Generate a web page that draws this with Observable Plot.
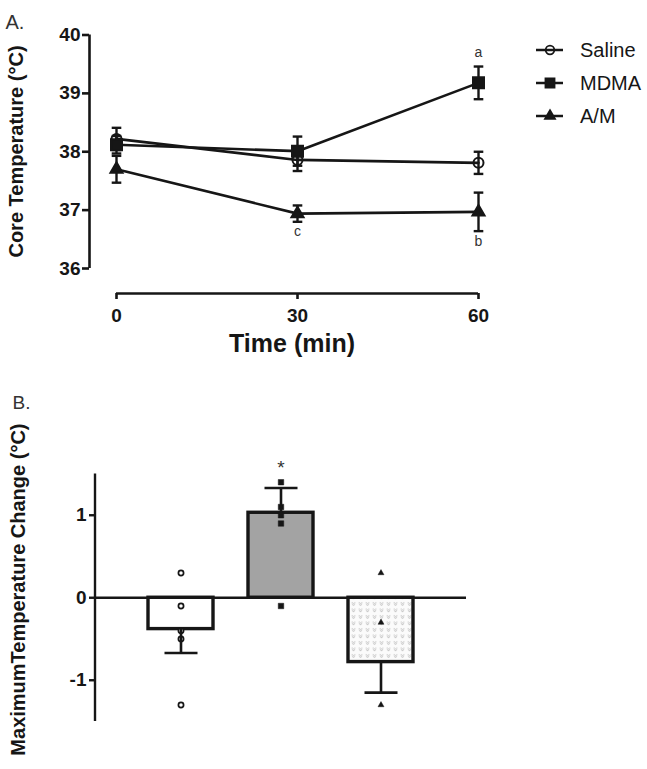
<!DOCTYPE html>
<html><head><meta charset="utf-8">
<script src="https://cdn.jsdelivr.net/npm/d3@7"></script>
<script src="https://cdn.jsdelivr.net/npm/@observablehq/plot@0.6"></script>
<style>
html,body{margin:0;padding:0;background:#fff;}
#wrap{position:relative;width:647px;height:769px;overflow:hidden;font-family:"Liberation Sans",Arial,sans-serif;color:#161616;}
#wrap svg{position:absolute;display:block;overflow:visible;}
</style></head><body><div id="wrap"></div>
<script>
// ---------- data ----------
const groups = ["Saline", "MDMA", "A/M"];
const times = [0, 30, 60];
const salineMean = [38.22, 37.86, 37.81];
const salineSem  = [0.19, 0.19, 0.19];
const mdmaMean   = [38.12, 38.01, 39.18];
const mdmaSem    = [0.15, 0.25, 0.28];
const amMean     = [37.70, 36.94, 36.97];
const amSem      = [0.23, 0.14, 0.33];
const yTicksA = [36, 37, 38, 39, 40];
const yDomainA = [36, 40];
const xDomainA = [0, 60];
const sigLetters = [
  {group: "MDMA", t: 60, label: "a", side: "above"},
  {group: "A/M", t: 60, label: "b", side: "below"},
  {group: "A/M", t: 30, label: "c", side: "below"}
];

const changeMean = [-0.38, 1.03, -0.78];
const changeSem  = [0.29, 0.30, 0.37];
const salinePts = [0.3, -0.1, -0.4, -0.5, -1.3];
const mdmaPts   = [1.4, 1.1, 1.0, 0.9, -0.1];
const amPts     = [0.3, -0.3, -1.3];
const yTicksB = [-1, 0, 1];
const yDomainB = [-1.5, 1.5];
const starGroup = "MDMA";

// ---------- styles ----------
const FONT = "Liberation Sans, Arial, Helvetica, sans-serif";
const INK = "#161616";
const symA = {"Saline": "circle", "MDMA": "square", "A/M": "triangle"};
const fillA = {"Saline": "none", "MDMA": INK, "A/M": INK};
const rA = {"Saline": 5, "MDMA": 6.2, "A/M": 4.5};
const rB = {"Saline": 2.6, "MDMA": 3.1, "A/M": 2.2};
const rLeg = {"Saline": 4.3, "MDMA": 5.1, "A/M": 3.7};
const barFill = {"Saline": "white", "MDMA": "#a3a3a3", "A/M": "url(#amPattern)"};
const capSymbol = {draw(ctx, size) { const r = Math.sqrt(size / Math.PI); ctx.moveTo(-r, 0); ctx.lineTo(r, 0); }};
const fmt = d => String(d);

const wrap = document.getElementById("wrap");

// ---------- Panel A ----------
const means = [salineMean, mdmaMean, amMean];
const sems = [salineSem, mdmaSem, amSem];
const timeRows = groups.flatMap((g, gi) => times.map((t, i) => ({group: g, t, mean: means[gi][i], sem: sems[gi][i]})));
const letterRows = sigLetters.map(s => {
  const r = timeRows.find(d => d.group === s.group && d.t === s.t);
  return {...s, y: s.side === "above" ? r.mean + r.sem : r.mean - r.sem};
});

const dotsA = groups.map(g => Plot.dot(timeRows.filter(d => d.group === g), {
  x: "t", y: "mean", symbol: symA[g], r: rA[g], fill: fillA[g], stroke: INK, strokeWidth: 2
}));

const plotA = Plot.plot({
  width: 647, height: 370,
  marginTop: 34.5, marginBottom: 77, marginLeft: 89, marginRight: 169,
  insetLeft: 27, insetBottom: 25,
  style: {fontFamily: FONT, color: INK, background: "transparent"},
  x: {domain: xDomainA, label: null},
  y: {domain: yDomainA, label: null},
  marks: [
    Plot.ruleX([xDomainA[0]], {y1: yDomainA[0], y2: yDomainA[1], dx: -27, stroke: INK, strokeWidth: 2.6}),
    Plot.ruleY([yDomainA[0]], {x1: xDomainA[0], x2: xDomainA[1], dy: 25, stroke: INK, strokeWidth: 2.6}),
    Plot.axisY({ticks: yTicksA, tickFormat: fmt, tickSize: 7, tickPadding: 2, fontSize: 19, fontWeight: "bold", strokeWidth: 2.6, label: null}),
    Plot.axisX({ticks: times, tickFormat: fmt, tickSize: 6, tickPadding: 9, fontSize: 19, fontWeight: "bold", strokeWidth: 2.6, label: null}),
    Plot.line(timeRows, {x: "t", y: "mean", z: "group", stroke: INK, strokeWidth: 2.6}),
    Plot.ruleX(timeRows, {x: "t", y1: d => d.mean - d.sem, y2: d => d.mean + d.sem, stroke: INK, strokeWidth: 2.4}),
    Plot.dot(timeRows, {x: "t", y: d => d.mean + d.sem, symbol: capSymbol, r: 4.8, fill: "none", stroke: INK, strokeWidth: 2.4}),
    Plot.dot(timeRows, {x: "t", y: d => d.mean - d.sem, symbol: capSymbol, r: 4.8, fill: "none", stroke: INK, strokeWidth: 2.4}),
    ...dotsA,
    Plot.text(letterRows.filter(d => d.side === "above"), {x: "t", y: "y", text: "label", dy: -14, fontSize: 14, fill: "#333"}),
    Plot.text(letterRows.filter(d => d.side === "below"), {x: "t", y: "y", text: "label", dy: 10, fontSize: 14, fill: "#333"}),
    Plot.text(["Time (min)"], {frameAnchor: "bottom", dx: 8, dy: 58, fontSize: 25, fontWeight: "bold", fill: INK}),
    Plot.text(["Core Temperature (°C)"], {frameAnchor: "top-left", textAnchor: "middle", rotate: -90, dx: -81, dy: 116.5, fontSize: 20, fontWeight: "bold", fill: INK}),
    Plot.text(["A."], {frameAnchor: "top-left", textAnchor: "start", dx: -84, dy: -20, fontSize: 20, fill: "#333"})
  ]
});
plotA.style.left = "0px"; plotA.style.top = "0px";
wrap.appendChild(plotA);

// ---------- Legend ----------
const legSvg = d3.create("svg").attr("width", 117).attr("height", 110)
  .style("left", "520px").style("top", "30px");
groups.forEach((g, i) => {
  const gy = 20 + i * 33;
  const gg = legSvg.append("g").attr("transform", `translate(0,${gy})`);
  gg.append("line").attr("x1", 16).attr("x2", 43).attr("y1", 0).attr("y2", 0).attr("stroke", INK).attr("stroke-width", 2.5);
  const typ = g === "Saline" ? d3.symbolCircle : g === "MDMA" ? d3.symbolSquare : d3.symbolTriangle;
  gg.append("path").attr("transform", "translate(30,0)")
    .attr("d", d3.symbol(typ, Math.PI * rLeg[g] * rLeg[g])())
    .attr("fill", fillA[g]).attr("stroke", INK).attr("stroke-width", 1.8);
  gg.append("text").attr("x", 60).attr("y", 0).attr("dy", "0.35em")
    .attr("font-family", FONT).attr("font-size", 20).attr("fill", INK).text(g);
});
wrap.appendChild(legSvg.node());

// ---------- Panel B ----------
const barRows = groups.map((g, i) => ({group: g, mean: changeMean[i], sem: changeSem[i]}));
const ptsByGroup = {"Saline": salinePts, "MDMA": mdmaPts, "A/M": amPts};
const ptRows = groups.flatMap(g => ptsByGroup[g].map(v => ({group: g, v})));
const errEnd = d => d.mean >= 0 ? d.mean + d.sem : d.mean - d.sem;

const barsB = groups.map(g => Plot.barY(barRows.filter(d => d.group === g), {
  x: "group", y: "mean", fill: barFill[g], stroke: INK, strokeWidth: 3.4
}));
const ptsB = groups.map(g => Plot.dot(ptRows.filter(d => d.group === g), {
  x: "group", y: "v", symbol: symA[g], r: rB[g], fill: g === "Saline" ? "white" : INK, stroke: INK, strokeWidth: g === "Saline" ? 1.7 : 0.5
}));

const plotB = Plot.plot({
  width: 647, height: 389,
  marginTop: 93.5, marginBottom: 48, marginLeft: 94, marginRight: 181,
  insetLeft: 36, insetRight: 36,
  style: {fontFamily: FONT, color: INK, background: "transparent"},
  x: {type: "band", domain: groups, paddingInner: 0.35, paddingOuter: 0.175, axis: null, label: null},
  y: {domain: yDomainB, label: null},
  marks: [
    ...barsB,
    Plot.ruleY([0], {stroke: INK, strokeWidth: 2.4}),
    Plot.ruleX([groups[0]], {y1: yDomainB[0], y2: yDomainB[1], dx: -86, stroke: INK, strokeWidth: 2.4}),
    Plot.axisY({ticks: yTicksB, tickFormat: fmt, tickSize: 5, tickPadding: 3, fontSize: 19, fontWeight: "bold", strokeWidth: 2.4, label: null}),
    ...ptsB,
    Plot.ruleX(barRows, {x: "group", y1: "mean", y2: errEnd, stroke: INK, strokeWidth: 2.6}),
    Plot.dot(barRows, {x: "group", y: errEnd, symbol: capSymbol, r: 16.5, fill: "none", stroke: INK, strokeWidth: 2.6}),
    Plot.text(barRows.filter(d => d.group === starGroup), {x: "group", y: errEnd, text: () => "*", dy: -20, fontSize: 19, fill: "#333"}),
    Plot.text(["MaximumTemperature Change (°C)"], {frameAnchor: "top-left", rotate: -90, textAnchor: "end", dx: -84, dy: -50.5, fontSize: 20, fontWeight: "bold", fill: INK}),
    Plot.text(["B."], {frameAnchor: "top-left", textAnchor: "start", dx: -82, dy: -78.5, fontSize: 19, fill: "#333"})
  ]
});
d3.select(plotB).insert("defs", ":first-child").html(
  `<pattern id="amPattern" patternUnits="userSpaceOnUse" width="7" height="6.5">
     <rect width="7" height="6.5" fill="#fbfbfb"/>
     <path d="M1.6,1.8 Q2.5,1.2 3.5,2.6 Q4.5,1.2 5.4,1.8 M2.2,3 L3.5,4.6 L4.8,3" fill="none" stroke="#a8a8a8" stroke-width="0.7"/>
   </pattern>`);
plotB.style.left = "0px"; plotB.style.top = "380px";
wrap.appendChild(plotB);
</script></body></html>
